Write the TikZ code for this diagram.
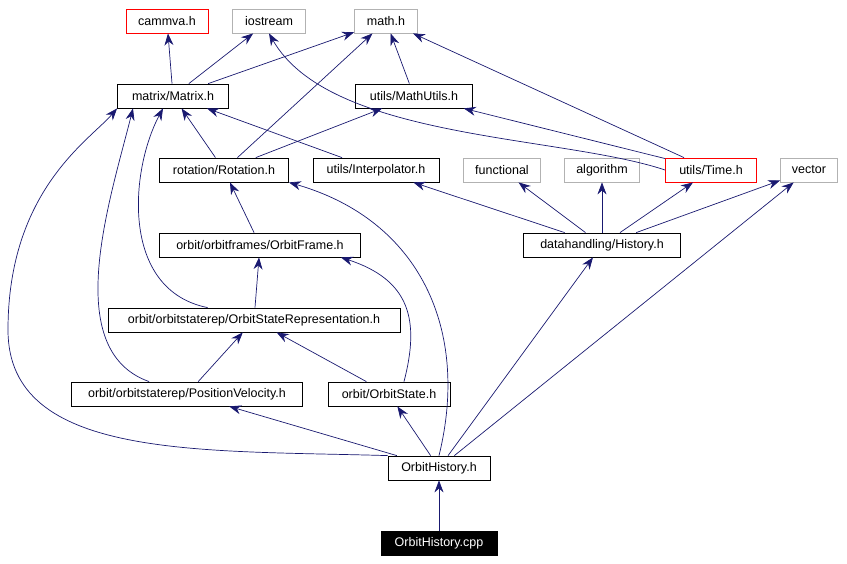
\documentclass[tikz,border=0pt]{standalone}
\usepackage{fontspec}
\setmainfont{Liberation Sans}
\usetikzlibrary{arrows.meta}
\definecolor{edgeblue}{HTML}{191970}
\tikzset{
  file/.style={draw=black,fill=white,minimum height=24pt,inner sep=2pt,line width=0.8pt,font=\fontsize{12.5}{14}\selectfont},
  sysfile/.style={file,draw=gray!60},
  extfile/.style={file,draw=red},
  dep/.style={edgeblue,line width=0.7pt,-{Stealth[length=12pt,width=9pt]}}
}
\begin{document}
\begin{tikzpicture}[x=1pt,y=-1pt]
\useasboundingbox (0,0) rectangle (847,564);
% top row
\node[extfile,minimum width=82pt] (cammva) at (167,21) {cammva.h};
\node[sysfile,minimum width=73pt] (iostream) at (269,21) {iostream};
\node[sysfile,minimum width=63pt] (math) at (386,21) {math.h};
% second row
\node[file,minimum width=111pt] (matrix) at (173,96) {matrix/Matrix.h};
\node[file,minimum width=117pt] (mathutils) at (414,96) {utils/MathUtils.h};
% third row
\node[file,minimum width=129pt] (rotation) at (224,170) {rotation/Rotation.h};
\node[file,minimum width=126pt] (interp) at (376,170) {utils/Interpolator.h};
\node[sysfile,minimum width=77pt] (functional) at (502,170) {functional};
\node[sysfile,minimum width=75pt] (algorithm) at (602,170) {algorithm};
\node[extfile,minimum width=91pt] (time) at (711,170) {utils/Time.h};
\node[sysfile,minimum width=57pt] (vector) at (809,170) {vector};
% lower rows
\node[file,minimum width=201pt] (frame) at (260,245) {orbit/orbitframes/OrbitFrame.h};
\node[file,minimum width=157pt] (history) at (602,245) {datahandling/History.h};
\node[file,minimum width=292pt] (staterep) at (254,320) {orbit/orbitstaterep/OrbitStateRepresentation.h};
\node[file,minimum width=231pt] (posvel) at (187,394) {orbit/orbitstaterep/PositionVelocity.h};
\node[file,minimum width=122pt] (state) at (389,394) {orbit/OrbitState.h};
\node[file,minimum width=102pt] (ohist) at (439,468) {OrbitHistory.h};
\node[file,minimum width=116pt,fill=black,text=white] (cpp) at (439,543) {OrbitHistory.cpp};
% edges
\draw[dep] (cpp) -- (ohist);
\draw[dep] (ohist.north west) .. controls (200,450) and (8,460) .. (8,330) .. controls (8,190) and (90,140) .. (matrix.south west);
\draw[dep] (ohist.north) .. controls (470,330) and (420,220) .. (rotation.south east);
\draw[dep] (ohist) -- (history);
\draw[dep] (ohist) -- (vector);
\draw[dep] (ohist) -- (posvel);
\draw[dep] (ohist) -- (state);
\draw[dep] (matrix) -- (cammva);
\draw[dep] (matrix) -- (iostream);
\draw[dep] (matrix) -- (math);
\draw[dep] (mathutils) -- (math);
\draw[dep] (rotation) -- (matrix);
\draw[dep] (rotation) -- (math);
\draw[dep] (rotation) -- (mathutils);
\draw[dep] (interp) -- (matrix);
\draw[dep] (time.west) .. controls (560,135) and (330,140) .. (iostream.south);
\draw[dep] (time) -- (math);
\draw[dep] (time) -- (mathutils);
\draw[dep] (history) -- (interp);
\draw[dep] (history) -- (functional);
\draw[dep] (history) -- (algorithm);
\draw[dep] (history) -- (time);
\draw[dep] (history) -- (vector);
\draw[dep] (frame) -- (rotation);
\draw[dep] (staterep) -- (frame);
\draw[dep] (staterep.north west) ++(100,0) .. controls (120,290) and (130,170) .. ([xshift=-10pt]matrix.south);
\draw[dep] (posvel) -- (staterep);
\draw[dep] (posvel.north west) ++(78,0) .. controls (60,350) and (110,200) .. ([xshift=-40pt]matrix.south);
\draw[dep] (state) -- (staterep);
\draw[dep] ([xshift=15pt]state.north) .. controls (420,320) and (410,280) .. ([xshift=-20pt]frame.south east);
\end{tikzpicture}
\end{document}
